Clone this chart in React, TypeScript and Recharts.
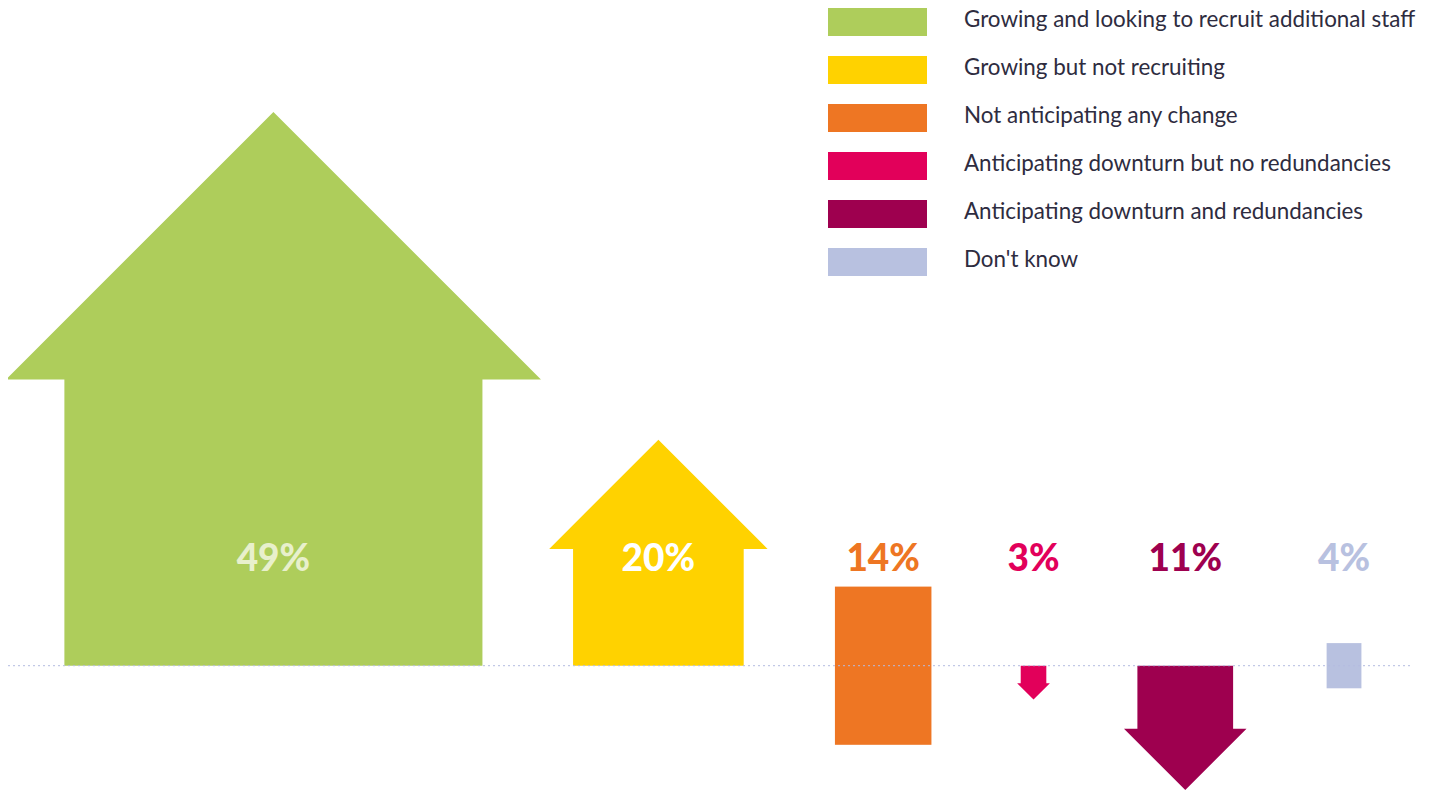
import { BarChart, Bar, XAxis, YAxis, ReferenceLine, Legend } from 'recharts'

const CATEGORIES = [
  'Growing and looking to recruit additional staff',
  'Growing but not recruiting',
  'Not anticipating any change',
  'Anticipating downturn but no redundancies',
  'Anticipating downturn and redundancies',
  "Don't know",
]
const SHARES = [49, 20, 14, 3, 11, 4]
// where each shape sits relative to the baseline (low/high in % points)
const LOWS = [0, 0, -7, -3, -11, -2]
const HIGHS = [49, 20, 7, 0, 0, 2]
// horizontal slot of each shape on a 0..100 axis
const SLOTS = [18.9, 46.3, 62.3, 73.0, 83.8, 95.1]

const COLORS = ['#aecd5b', '#ffd200', '#ee7623', '#e2005a', '#9e004f', '#b8c1e0']
const LABEL_COLORS = ['#e8f0cc', '#ffffff', '#ee7623', '#e2005a', '#9e004f', '#b8c1e0']
const ASPECT = [0.755, 0.755, 0.61, 0.755, 0.77, 0.77]

const data = CATEGORIES.map((name, i) => ({
  name,
  slot: SLOTS[i],
  range: [LOWS[i], HIGHS[i]],
}))

function ArrowShape(props: any) {
  const { x, y, width, height, index } = props
  const cx = x + width / 2
  const top = Math.min(y, y + height)
  const bottom = Math.max(y, y + height)
  const h = bottom - top
  const lo = LOWS[index]
  const hi = HIGHS[index]
  const base = top + (h * hi) / (hi - lo)
  const fill = COLORS[index]
  const shaftW = h * ASPECT[index]
  const headW = shaftW * 1.28
  const headH = headW / 2
  let shape
  if (lo >= 0) {
    const pts = [
      [cx - shaftW / 2, bottom],
      [cx - shaftW / 2, top + headH],
      [cx - headW / 2, top + headH],
      [cx, top],
      [cx + headW / 2, top + headH],
      [cx + shaftW / 2, top + headH],
      [cx + shaftW / 2, bottom],
    ]
    shape = <polygon points={pts.map(p => p.join(',')).join(' ')} fill={fill} />
  } else if (hi <= 0) {
    const pts = [
      [cx - shaftW / 2, top],
      [cx - shaftW / 2, bottom - headH],
      [cx - headW / 2, bottom - headH],
      [cx, bottom],
      [cx + headW / 2, bottom - headH],
      [cx + shaftW / 2, bottom - headH],
      [cx + shaftW / 2, top],
    ]
    shape = <polygon points={pts.map(p => p.join(',')).join(' ')} fill={fill} />
  } else {
    shape = <rect x={cx - shaftW / 2} y={top} width={shaftW} height={h} fill={fill} />
  }
  return (
    <g>
      {shape}
      <text
        x={cx}
        y={base - 95}
        textAnchor="middle"
        fill={LABEL_COLORS[index]}
        style={{ fontFamily: 'Lato, "Open Sans", sans-serif', fontWeight: 900, fontSize: 37 }}
      >
        {SHARES[index]}%
      </text>
    </g>
  )
}

function LegendBox() {
  return (
    <div>
      {CATEGORIES.map((c, i) => (
        <div key={c} style={{ display: 'flex', alignItems: 'flex-start', height: 28, marginBottom: 20 }}>
          <div style={{ width: 99, height: 28, background: COLORS[i], flex: 'none' }} />
          <span
            style={{
              marginLeft: 37,
              marginTop: -3,
              lineHeight: '28px',
              fontFamily: 'Lato, "Open Sans", sans-serif',
              fontSize: 22.4,
              color: '#2e2c40',
              whiteSpace: 'nowrap',
            }}
          >
            {c}
          </span>
        </div>
      ))}
    </div>
  )
}

export default function App() {
  return (
    <BarChart
      width={1414}
      height={786}
      data={data}
      margin={{ top: 104, right: 9, bottom: 4, left: 0 }}
    >
      <XAxis type="number" dataKey="slot" domain={[0, 100]} hide />
      <YAxis type="number" domain={[-11, 49]} allowDataOverflow hide />
      <Legend
        layout="horizontal"
        verticalAlign="middle"
        align="center"
        wrapperStyle={{ top: 0, left: 820, width: 600, height: 290 }}
        content={() => <LegendBox />}
      />
      <Bar dataKey="range" shape={ArrowShape} isAnimationActive={false} />
      <ReferenceLine y={0} stroke="#b3bce0" strokeDasharray="2 3" strokeWidth={1} />
    </BarChart>
  )
}
